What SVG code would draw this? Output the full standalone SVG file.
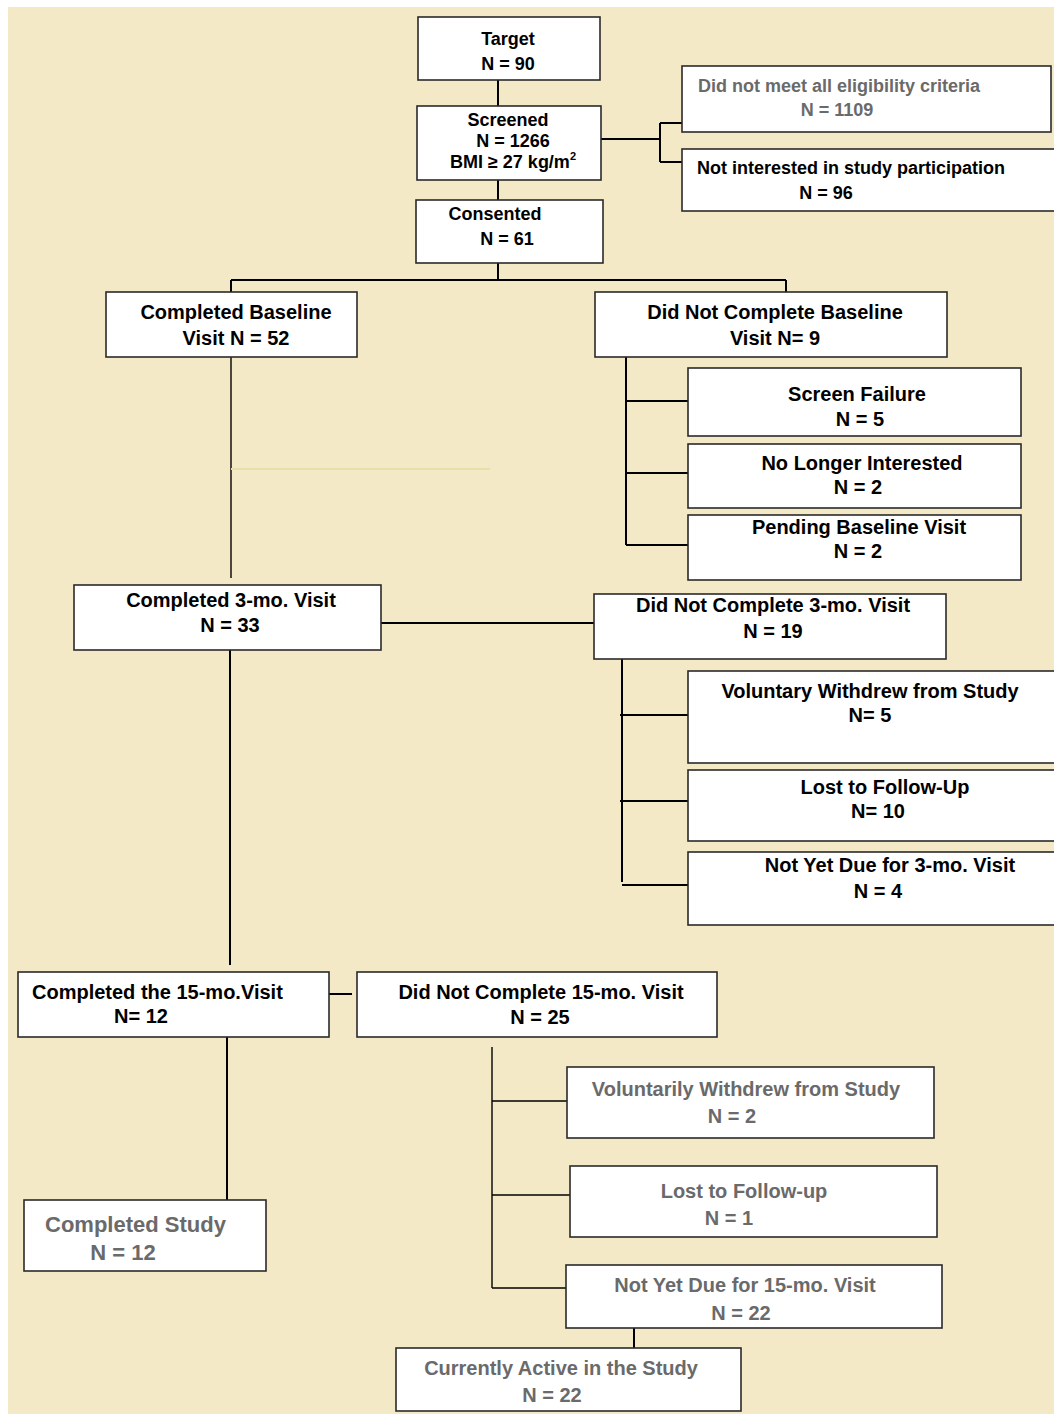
<svg xmlns="http://www.w3.org/2000/svg" width="1054" height="1416" viewBox="0 0 1054 1416">
<style>
.bx{fill:#ffffff;stroke:#2a2a2a;stroke-width:1.6}
.t{font-family:"Liberation Sans",Arial,sans-serif;font-weight:bold;fill:#000}
.g{fill:#6a6a6a}
.s18{font-size:18px}
.s20{font-size:20px}
.s21{font-size:21px}
.s22{font-size:22px}
.c{fill:none;stroke:#000;stroke-width:2}
.th{fill:none;stroke:#000;stroke-width:1.4}
</style>
<rect x="0" y="0" width="1054" height="1416" fill="#ffffff"/>
<rect x="8" y="7" width="1046" height="1407" fill="#F4E9C7"/>

<g id="connectors">
<path class="c" d="M498 80V106M498 180V200M498 263V280M231 280H786M231 280V292M786 280V292"/>
<path class="c" d="M601 139H660M660 123V162M660 123H682M660 162H682"/>
<path class="th" d="M231 353V578"/>
<path fill="none" stroke="#E6DFA6" stroke-width="2" d="M231 469H490"/>
<path class="c" d="M626 357V545M626 401H688M626 473H688M626 545H690"/>
<path class="c" d="M381 623H594"/>
<path class="c" d="M622 655V882M620 715H688M620 801H688M622 885H690"/>
<path class="c" d="M230 645V965"/>
<path class="c" d="M329 994H352"/>
<path class="c" d="M227 1037V1200"/>
<path class="th" d="M492 1047V1288M492 1101H567M492 1195H570M492 1288H566"/>
<path class="c" d="M634 1328V1348"/>
</g>

<g id="n-target"><rect class="bx" x="418" y="17" width="182" height="63"/>
<text class="t s18" x="508" y="45" text-anchor="middle">Target</text>
<text class="t s18" x="508" y="70" text-anchor="middle">N = 90</text></g>

<g id="n-screened"><rect class="bx" x="417" y="106" width="184" height="74"/>
<text class="t s18" x="508" y="126" text-anchor="middle">Screened</text>
<text class="t s18" x="513" y="147" text-anchor="middle">N = 1266</text>
<text class="t s18" x="513" y="168" text-anchor="middle">BMI ≥ 27 kg/m<tspan font-size="11" dy="-8">2</tspan></text></g>

<g id="n-consented"><rect class="bx" x="416" y="200" width="187" height="63"/>
<text class="t s18" x="495" y="220" text-anchor="middle">Consented</text>
<text class="t s18" x="507" y="245" text-anchor="middle">N = 61</text></g>

<g id="n-elig"><rect class="bx" x="682" y="66" width="369" height="66"/>
<text class="t s18 g" x="698" y="92">Did not meet all eligibility criteria</text>
<text class="t s18 g" x="837" y="116" text-anchor="middle">N = 1109</text></g>

<g id="n-notint"><rect class="bx" x="682" y="149" width="376" height="62"/>
<text class="t s18" x="697" y="174">Not interested in study participation</text>
<text class="t s18" x="826" y="199" text-anchor="middle">N = 96</text></g>

<g id="n-compbase"><rect class="bx" x="106" y="292" width="251" height="65"/>
<text class="t s20" x="236" y="319" text-anchor="middle">Completed Baseline</text>
<text class="t s20" x="236" y="345" text-anchor="middle">Visit N = 52</text></g>

<g id="n-dncbase"><rect class="bx" x="595" y="292" width="352" height="65"/>
<text class="t s20" x="775" y="319" text-anchor="middle">Did Not Complete Baseline</text>
<text class="t s20" x="775" y="345" text-anchor="middle">Visit N= 9</text></g>

<g id="n-screenfail"><rect class="bx" x="688" y="368" width="333" height="68"/>
<text class="t s20" x="857" y="401" text-anchor="middle">Screen Failure</text>
<text class="t s20" x="860" y="426" text-anchor="middle">N = 5</text></g>

<g id="n-nolonger"><rect class="bx" x="688" y="444" width="333" height="64"/>
<text class="t s20" x="862" y="470" text-anchor="middle">No Longer Interested</text>
<text class="t s20" x="858" y="494" text-anchor="middle">N = 2</text></g>

<g id="n-pending"><rect class="bx" x="688" y="515" width="333" height="65"/>
<text class="t s20" x="859" y="534" text-anchor="middle">Pending Baseline Visit</text>
<text class="t s20" x="858" y="558" text-anchor="middle">N = 2</text></g>

<g id="n-comp3"><rect class="bx" x="74" y="585" width="307" height="65"/>
<text class="t s20" x="231" y="607" text-anchor="middle">Completed 3-mo. Visit</text>
<text class="t s20" x="230" y="632" text-anchor="middle">N = 33</text></g>

<g id="n-dnc3"><rect class="bx" x="594" y="594" width="352" height="65"/>
<text class="t s20" x="773" y="612" text-anchor="middle">Did Not Complete 3-mo. Visit</text>
<text class="t s20" x="773" y="638" text-anchor="middle">N = 19</text></g>

<g id="n-vol3"><rect class="bx" x="688" y="671" width="370" height="92"/>
<text class="t s20" x="870" y="698" text-anchor="middle">Voluntary Withdrew from Study</text>
<text class="t s20" x="870" y="722" text-anchor="middle">N= 5</text></g>

<g id="n-lost3"><rect class="bx" x="688" y="770" width="370" height="71"/>
<text class="t s20" x="885" y="794" text-anchor="middle">Lost to Follow-Up</text>
<text class="t s20" x="878" y="818" text-anchor="middle">N= 10</text></g>

<g id="n-notyet3"><rect class="bx" x="688" y="852" width="370" height="73"/>
<text class="t s20" x="890" y="872" text-anchor="middle">Not Yet Due for 3-mo. Visit</text>
<text class="t s20" x="878" y="898" text-anchor="middle">N = 4</text></g>

<g id="n-comp15"><rect class="bx" x="18" y="972" width="311" height="65"/>
<text class="t s20" x="32" y="999">Completed the 15-mo.Visit</text>
<text class="t s20" x="141" y="1023" text-anchor="middle">N= 12</text></g>

<g id="n-dnc15"><rect class="bx" x="357" y="972" width="360" height="65"/>
<text class="t s20" x="541" y="999" text-anchor="middle">Did Not Complete 15-mo. Visit</text>
<text class="t s20" x="540" y="1024" text-anchor="middle">N = 25</text></g>

<g id="n-compstudy"><rect class="bx" x="24" y="1200" width="242" height="71"/>
<text class="t s22 g" x="45" y="1232">Completed Study</text>
<text class="t s22 g" x="123" y="1260" text-anchor="middle">N = 12</text></g>

<g id="n-vol15"><rect class="bx" x="567" y="1067" width="367" height="71"/>
<text class="t s20 g" x="746" y="1096" text-anchor="middle">Voluntarily Withdrew from Study</text>
<text class="t s20 g" x="732" y="1123" text-anchor="middle">N = 2</text></g>

<g id="n-lost15"><rect class="bx" x="570" y="1166" width="367" height="71"/>
<text class="t s20 g" x="744" y="1198" text-anchor="middle">Lost to Follow-up</text>
<text class="t s20 g" x="729" y="1225" text-anchor="middle">N = 1</text></g>

<g id="n-notyet15"><rect class="bx" x="566" y="1265" width="376" height="63"/>
<text class="t s20 g" x="745" y="1292" text-anchor="middle">Not Yet Due for 15-mo. Visit</text>
<text class="t s20 g" x="741" y="1320" text-anchor="middle">N = 22</text></g>

<g id="n-active"><rect class="bx" x="396" y="1348" width="345" height="63"/>
<text class="t s20 g" x="561" y="1375" text-anchor="middle">Currently Active in the Study</text>
<text class="t s20 g" x="552" y="1402" text-anchor="middle">N = 22</text></g>
</svg>
